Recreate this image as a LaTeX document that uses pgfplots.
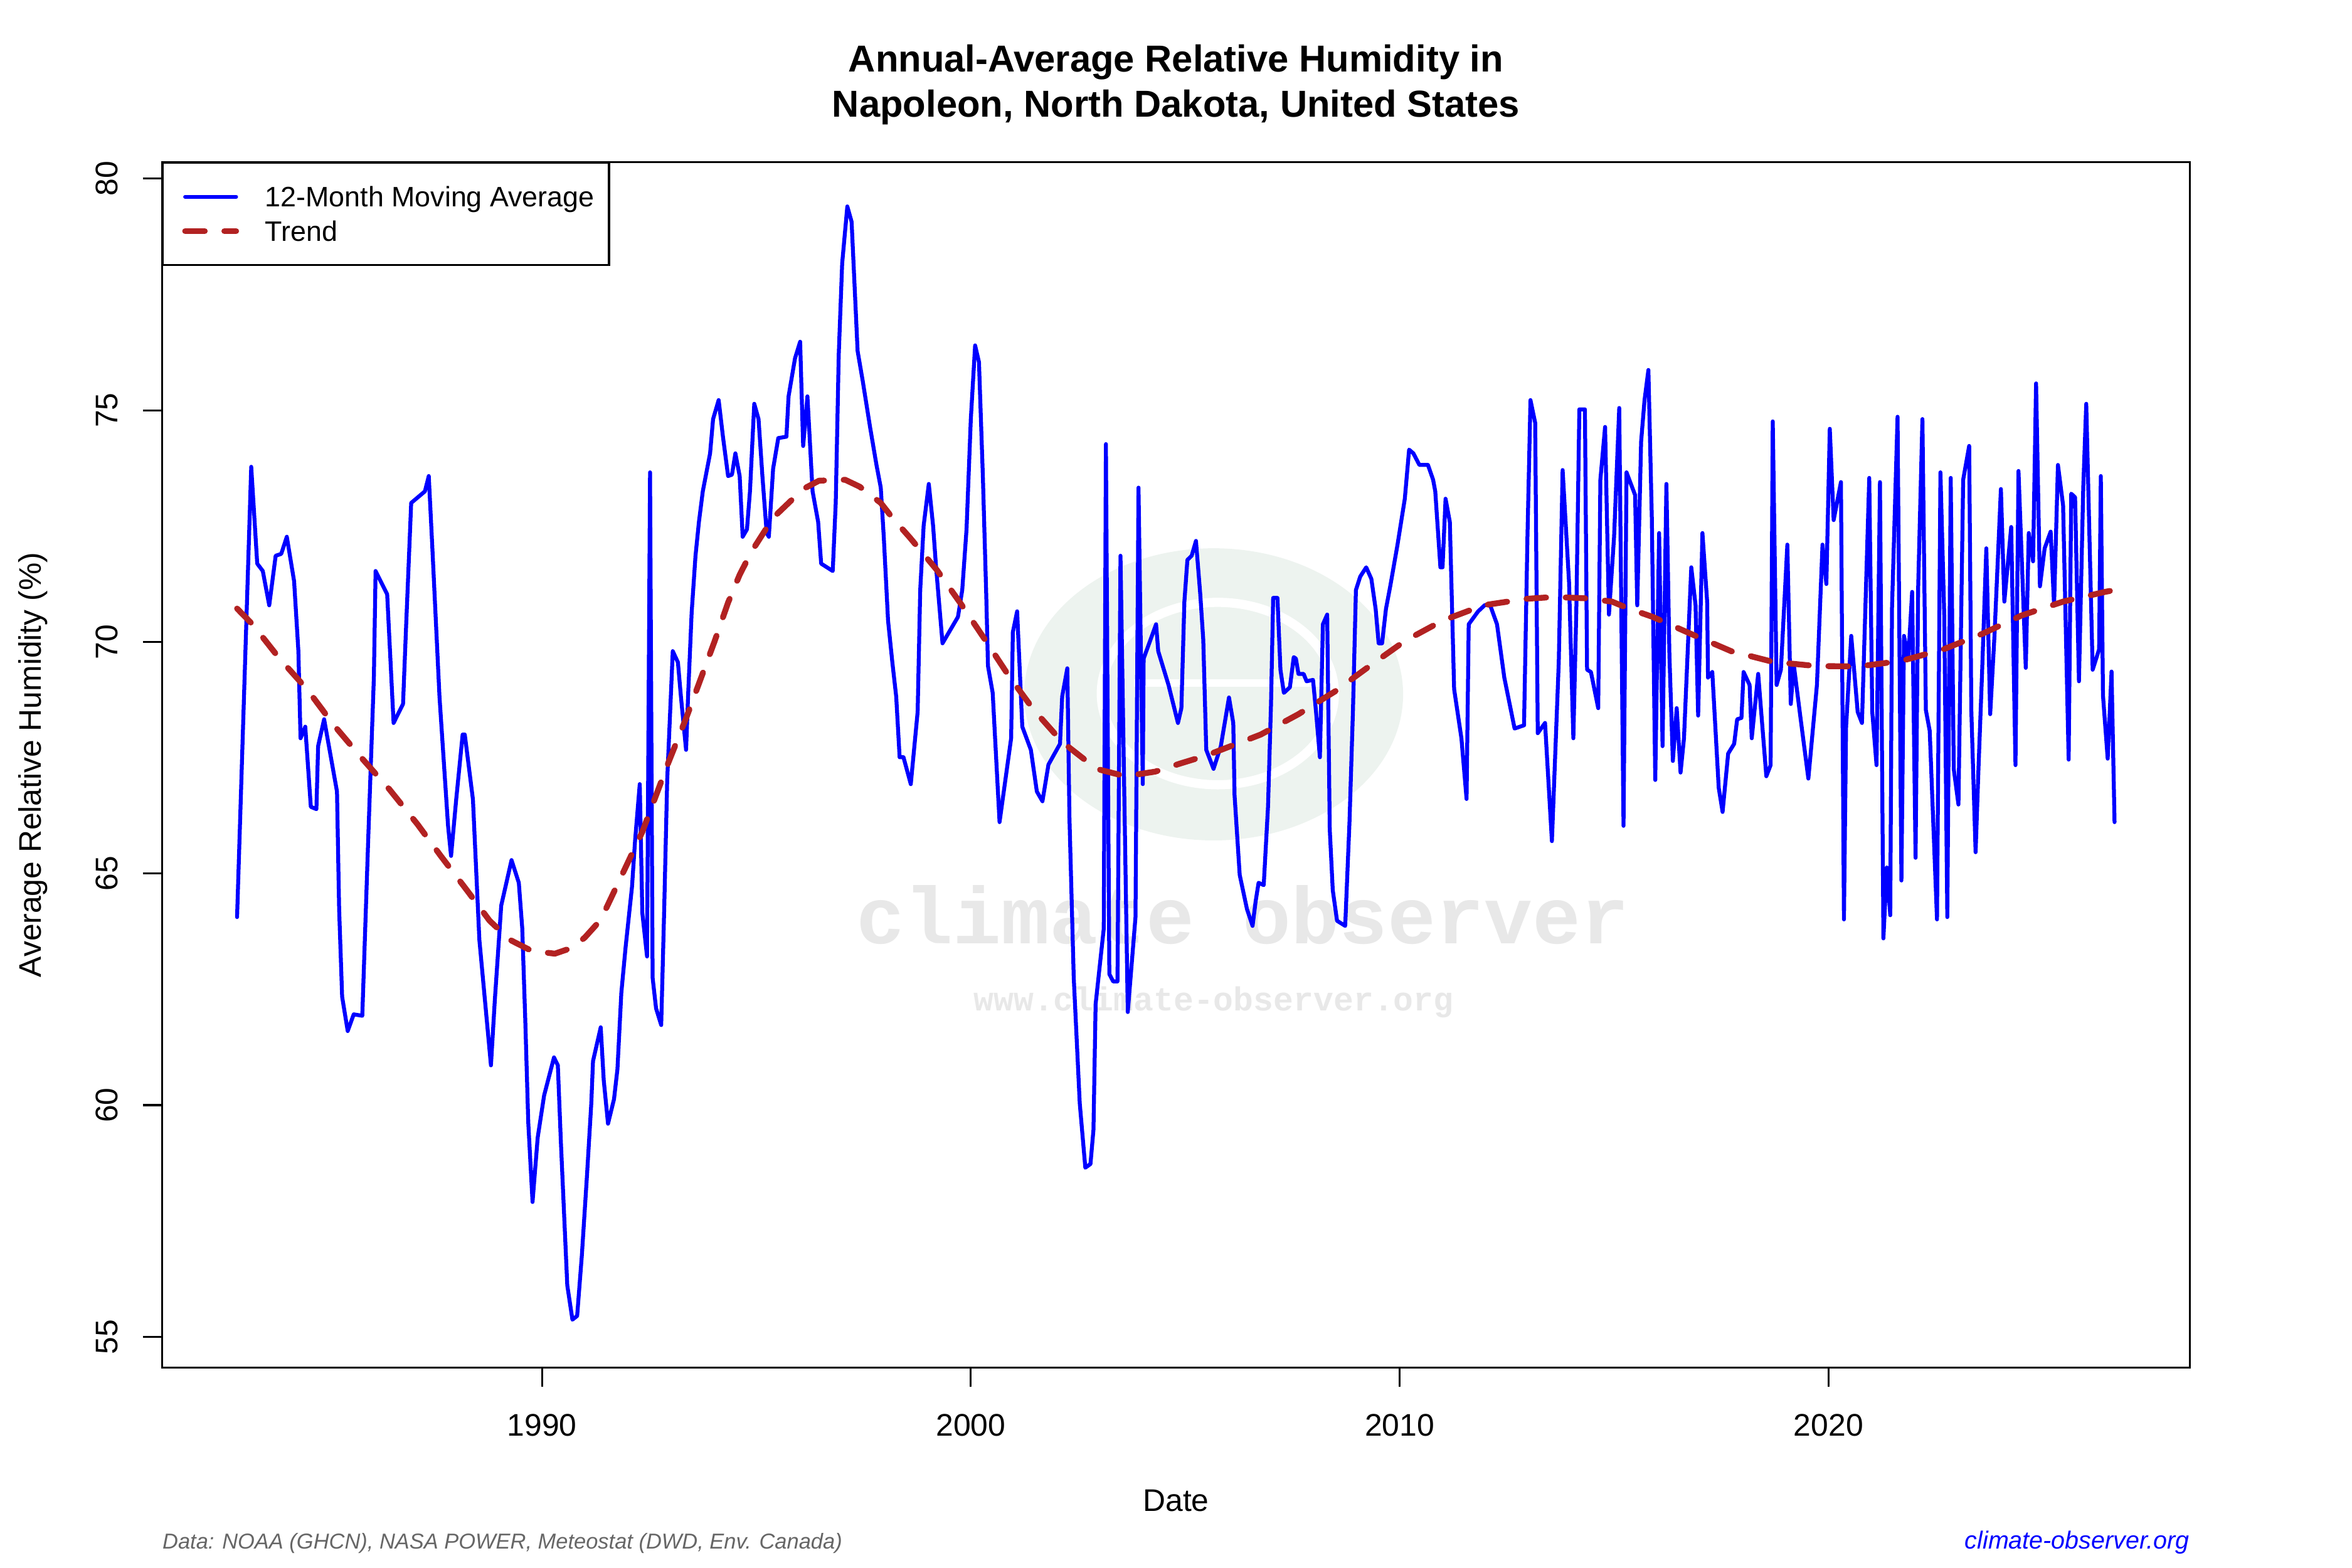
\documentclass[border=0pt]{standalone}
\usepackage{pgfplots}
\pgfplotsset{compat=1.18}
\usepackage{fontspec}
\setmainfont{Liberation Sans}
\newfontfamily\wmfont{Liberation Mono}
\definecolor{trendred}{RGB}{178,34,34}
\definecolor{footgray}{RGB}{102,102,102}
\definecolor{wmgreen}{RGB}{237,243,239}
\definecolor{wmgray}{RGB}{232,232,232}

\begin{document}
\begin{tikzpicture}[x=1bp,y=1bp]
% page frame (900 x 600 bp), axis box lower-left at origin
\path (-62,-76.6) rectangle (838,523.4);

% faint site logo behind the data
\fill[wmgreen] (402.4,257.7) ellipse [x radius=72.5, y radius=55.9];
\draw[white, line width=3.5bp] (404,258) ellipse [x radius=44.6, y radius=34.9];
\draw[white, line width=3bp] (372,262) -- (446,262);
\node[text=wmgray, font=\wmfont\bfseries\fontsize{30.9}{32}\selectfont, inner sep=0pt] at (413.6,173.3) {climate observer};
\node[text=wmgray, font=\wmfont\bfseries\fontsize{12.8}{14}\selectfont, inner sep=0pt] at (402.4,140) {www.climate-observer.org};

\begin{axis}[
  at={(0,0)}, anchor=south west,
  scale only axis, width=776bp, height=461.4bp,
  xmin=1981.14, xmax=2028.43, ymin=54.33, ymax=80.36,
  axis line style={line width=0.75bp},
  tick style={black, line width=0.75bp},
  major tick length=7.3bp, tick align=outside, tick pos=left,
  xtick={1990,2000,2010,2020}, xticklabels={1990,2000,2010,2020},
  ytick={55,60,65,70,75,80},
  /pgf/number format/assume math mode=true,
  ticklabel style={font=\fontsize{12}{14.4}\selectfont, inner sep=0pt},
  xticklabel style={anchor=base, yshift=-18.9bp},
  yticklabel style={xshift=-9.7bp, rotate=90, anchor=base},
  title={Annual-Average Relative Humidity in},
  every axis title/.style={at={(axis description cs:0.5,1)}, anchor=base, yshift=34.5bp, inner sep=0pt, font=\bfseries\fontsize{14.4}{17}\selectfont},
  xlabel={Date},
  every axis x label/.style={at={(axis description cs:0.5,0)}, anchor=base, yshift=-55bp, inner sep=0pt, font=\fontsize{12}{14.4}\selectfont},
  ylabel={Average Relative Humidity (\%)},
  every axis y label/.style={at={(axis description cs:0,0.5)}, xshift=-46.2bp, rotate=90, anchor=base, inner sep=0pt, font=\fontsize{12}{14.4}\selectfont},
  legend cell align=left,
  legend style={at={(axis description cs:0,1)}, anchor=north west, draw=black, line width=0.75bp, fill=white,
    inner xsep=5.6bp, inner ysep=9.1bp, row sep=5.4bp, font=\fontsize{10.8}{12}\selectfont,
    nodes={inner sep=0pt, text height=7.7bp, text depth=0pt},
    /tikz/every odd column/.append style={column sep=9.95bp}},
  legend image code/.code={\path (0bp,0bp) (21.25bp,0bp); \draw[#1] (1.75bp,0bp) -- (21.25bp,0bp);},
]

% 12-month moving average
\addplot[blue, line width=1.5bp, line join=round, line cap=round] table {
x y
1982.89 64.06
1983.22 73.78
1983.36 71.69
1983.49 71.53
1983.64 70.79
1983.79 71.86
1983.92 71.90
1984.05 72.27
1984.22 71.31
1984.32 69.80
1984.37 67.92
1984.48 68.17
1984.61 66.44
1984.74 66.39
1984.78 67.75
1984.92 68.33
1985.22 66.77
1985.27 64.23
1985.34 62.34
1985.47 61.60
1985.61 61.96
1985.81 61.93
1985.95 65.79
1986.08 69.23
1986.12 71.53
1986.39 71.03
1986.54 68.25
1986.76 68.66
1986.83 70.30
1986.95 73.00
1987.27 73.25
1987.36 73.58
1987.44 72.10
1987.61 68.82
1987.81 66.03
1987.88 65.38
1988.00 66.60
1988.15 68.00
1988.20 68.00
1988.39 66.60
1988.54 63.57
1988.81 60.86
1988.90 62.26
1989.05 64.31
1989.29 65.29
1989.46 64.80
1989.54 63.82
1989.61 61.85
1989.68 59.63
1989.78 57.91
1989.90 59.30
1990.05 60.21
1990.28 61.03
1990.37 60.86
1990.44 59.22
1990.59 56.11
1990.71 55.37
1990.82 55.45
1990.93 56.76
1991.05 58.49
1991.15 60.04
1991.19 60.95
1991.37 61.68
1991.44 60.54
1991.54 59.60
1991.68 60.13
1991.76 60.78
1991.85 62.42
1991.95 63.41
1992.10 64.72
1992.17 65.70
1992.28 66.93
1992.34 64.15
1992.45 63.21
1992.52 73.66
1992.58 62.75
1992.66 62.09
1992.78 61.73
1992.85 64.23
1992.92 67.02
1993.05 69.80
1993.17 69.56
1993.24 68.82
1993.36 67.67
1993.41 68.90
1993.49 70.63
1993.58 71.86
1993.66 72.59
1993.75 73.25
1993.92 74.07
1993.99 74.81
1994.12 75.22
1994.22 74.43
1994.34 73.58
1994.43 73.61
1994.51 74.07
1994.61 73.58
1994.68 72.27
1994.78 72.43
1994.85 73.25
1994.95 75.14
1995.05 74.81
1995.14 73.58
1995.24 72.35
1995.29 72.27
1995.39 73.74
1995.51 74.40
1995.70 74.43
1995.75 75.30
1995.90 76.12
1996.02 76.48
1996.09 74.23
1996.19 75.30
1996.31 73.25
1996.44 72.59
1996.51 71.69
1996.78 71.53
1996.85 73.00
1996.92 76.20
1997.00 78.17
1997.12 79.40
1997.22 79.07
1997.29 77.68
1997.36 76.28
1997.48 75.63
1997.65 74.64
1997.80 73.82
1997.90 73.33
1997.97 72.27
1998.07 70.46
1998.17 69.56
1998.26 68.82
1998.34 67.51
1998.43 67.51
1998.60 66.93
1998.76 68.49
1998.82 71.12
1998.90 72.51
1999.02 73.41
1999.12 72.51
1999.19 71.61
1999.34 69.97
1999.70 70.54
1999.80 71.12
1999.90 72.43
2000.00 74.81
2000.10 76.40
2000.19 76.04
2000.28 73.60
2000.36 71.00
2000.40 69.48
2000.51 68.90
2000.67 66.11
2000.94 67.92
2000.98 70.21
2001.08 70.66
2001.20 68.17
2001.40 67.67
2001.54 66.77
2001.67 66.56
2001.81 67.35
2002.08 67.80
2002.13 68.82
2002.25 69.43
2002.30 66.20
2002.40 62.75
2002.54 60.04
2002.67 58.65
2002.79 58.73
2002.86 59.47
2002.91 62.18
2003.10 63.81
2003.15 74.27
2003.23 62.83
2003.32 62.67
2003.42 62.67
2003.49 71.86
2003.66 62.01
2003.84 64.06
2003.91 73.33
2004.01 66.93
2004.03 69.64
2004.32 70.38
2004.37 69.80
2004.61 69.07
2004.83 68.25
2004.91 68.57
2004.98 70.87
2005.05 71.77
2005.15 71.86
2005.25 72.18
2005.35 71.03
2005.42 70.05
2005.49 67.67
2005.66 67.26
2005.83 67.75
2006.02 68.80
2006.12 68.25
2006.15 66.69
2006.27 64.97
2006.44 64.23
2006.57 63.87
2006.64 64.39
2006.71 64.80
2006.83 64.75
2006.93 66.44
2007.00 68.66
2007.05 70.95
2007.15 70.95
2007.22 69.40
2007.30 68.90
2007.44 69.02
2007.53 69.67
2007.58 69.64
2007.64 69.31
2007.76 69.31
2007.83 69.15
2007.98 69.18
2008.05 68.49
2008.14 67.51
2008.21 70.38
2008.31 70.59
2008.37 65.95
2008.44 64.64
2008.54 63.98
2008.73 63.87
2008.83 66.11
2008.91 68.49
2008.98 71.12
2009.08 71.41
2009.22 71.61
2009.34 71.36
2009.44 70.71
2009.51 69.97
2009.59 69.97
2009.68 70.71
2009.78 71.20
2009.95 72.10
2010.12 73.09
2010.22 74.15
2010.32 74.07
2010.46 73.82
2010.66 73.82
2010.78 73.50
2010.83 73.25
2010.95 71.61
2011.00 71.61
2011.07 73.09
2011.17 72.59
2011.27 68.98
2011.44 67.92
2011.56 66.61
2011.61 70.38
2011.83 70.66
2011.98 70.79
2012.10 70.82
2012.27 70.38
2012.44 69.23
2012.68 68.13
2012.90 68.20
2012.98 72.27
2013.05 75.22
2013.16 74.73
2013.22 68.03
2013.39 68.25
2013.55 65.70
2013.71 69.56
2013.80 73.71
2013.95 71.28
2014.05 67.92
2014.12 70.71
2014.19 75.02
2014.32 75.02
2014.37 69.40
2014.46 69.35
2014.63 68.57
2014.68 73.50
2014.79 74.64
2014.88 70.59
2015.00 72.27
2015.12 75.05
2015.22 66.03
2015.29 73.66
2015.49 73.17
2015.54 70.79
2015.63 74.32
2015.71 75.22
2015.80 75.87
2015.88 72.68
2015.96 67.02
2016.05 72.35
2016.13 67.75
2016.22 73.41
2016.29 69.72
2016.37 67.43
2016.46 68.57
2016.55 67.18
2016.63 67.92
2016.80 71.61
2016.90 70.79
2016.96 68.41
2017.06 72.35
2017.17 70.87
2017.19 69.23
2017.29 69.35
2017.44 66.85
2017.53 66.33
2017.66 67.59
2017.80 67.80
2017.87 68.33
2017.97 68.36
2018.02 69.35
2018.16 69.07
2018.21 67.92
2018.36 69.31
2018.55 67.10
2018.65 67.34
2018.70 74.76
2018.79 69.07
2018.89 69.40
2019.04 72.10
2019.12 68.66
2019.19 69.51
2019.34 68.41
2019.53 67.05
2019.73 69.07
2019.86 72.10
2019.95 71.25
2020.03 74.60
2020.12 72.63
2020.29 73.45
2020.36 64.01
2020.41 68.17
2020.53 70.13
2020.68 68.49
2020.78 68.25
2020.95 73.54
2021.02 68.49
2021.12 67.34
2021.20 73.45
2021.28 63.60
2021.36 65.13
2021.44 64.10
2021.48 70.71
2021.61 74.86
2021.70 64.85
2021.76 70.13
2021.86 69.64
2021.95 71.08
2022.03 65.34
2022.09 71.15
2022.19 74.81
2022.27 68.53
2022.36 68.08
2022.53 64.01
2022.61 73.66
2022.70 70.54
2022.77 64.06
2022.85 73.54
2022.92 67.26
2023.03 66.49
2023.14 73.50
2023.28 74.23
2023.33 68.53
2023.43 65.46
2023.50 67.34
2023.58 69.31
2023.68 72.02
2023.77 68.44
2023.87 70.13
2024.02 73.30
2024.10 70.87
2024.26 72.48
2024.36 67.34
2024.43 73.69
2024.60 69.44
2024.67 72.35
2024.77 71.74
2024.84 75.58
2024.93 71.20
2025.04 72.02
2025.18 72.38
2025.26 70.79
2025.35 73.82
2025.47 72.95
2025.60 67.46
2025.66 73.20
2025.75 73.12
2025.84 69.15
2025.94 73.33
2026.01 75.14
2026.16 69.40
2026.31 69.84
2026.35 73.58
2026.40 68.85
2026.51 67.48
2026.60 69.36
2026.67 66.11
};
\addlegendentry{12-Month Moving Average}

% smoothed trend
\addplot[trendred, line width=2.25bp, line cap=round, line join=round, dash pattern=on 7.5bp off 7.5bp] table {
x y
1982.89 70.72
1983.25 70.38
1983.88 69.64
1984.52 68.98
1985.15 68.20
1985.78 67.51
1986.44 66.82
1987.10 66.06
1987.64 65.38
1988.29 64.59
1988.78 63.98
1989.25 63.57
1989.76 63.33
1990.30 63.27
1990.71 63.40
1991.00 63.62
1991.37 64.00
1991.83 64.90
1992.34 65.90
1992.95 67.40
1993.36 68.35
1993.66 69.10
1994.02 70.00
1994.34 70.85
1994.61 71.45
1994.88 71.94
1995.39 72.68
1996.09 73.30
1996.46 73.48
1997.07 73.50
1997.41 73.35
1997.90 73.00
1998.17 72.68
1998.58 72.25
1999.21 71.55
1999.77 70.82
2000.33 70.05
2000.89 69.26
2001.47 68.53
2002.13 67.84
2002.93 67.26
2003.60 67.10
2004.30 67.20
2004.90 67.38
2005.50 67.55
2006.20 67.80
2006.76 68.00
2007.64 68.44
2008.49 68.93
2009.30 69.48
2010.12 70.02
2011.00 70.46
2011.95 70.79
2012.95 70.93
2013.60 70.97
2014.37 70.94
2014.95 70.87
2015.34 70.72
2015.90 70.54
2016.80 70.17
2017.73 69.80
2018.70 69.57
2019.70 69.48
2020.70 69.47
2021.70 69.59
2022.68 69.84
2023.60 70.18
2024.50 70.57
2025.47 70.87
2026.45 71.08
2026.67 71.12
};
\addlegendentry{Trend}
\end{axis}

% second title line and source notes
\node[anchor=base, inner sep=0pt, font=\bfseries\fontsize{14.4}{17}\selectfont] at (388,478.6) {Napoleon, North Dakota, United States};
\node[anchor=base west, inner sep=0pt, text=footgray, font=\itshape\fontsize{8.3}{10}\selectfont] at (0,-69.4) {Data: NOAA (GHCN), NASA POWER, Meteostat (DWD, Env. Canada)};
\node[anchor=base east, inner sep=0pt, text=blue, font=\itshape\fontsize{9.5}{11}\selectfont] at (776,-69.4) {climate-observer.org};
\end{tikzpicture}
\end{document}
